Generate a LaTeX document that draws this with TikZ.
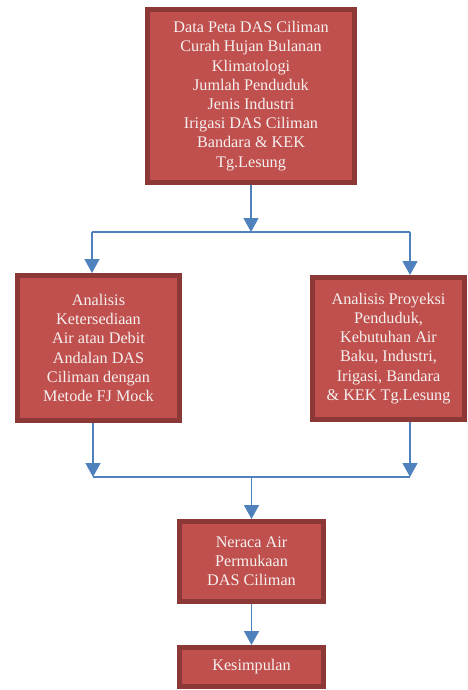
\documentclass[tikz,border=0pt]{standalone}
\usepackage{fontspec}
\setmainfont{Liberation Serif}
\usetikzlibrary{arrows.meta}
\definecolor{boxfill}{HTML}{C0504D}
\definecolor{boxline}{HTML}{8C3836}
\definecolor{boxtext}{HTML}{F4F0F0}
\definecolor{conncol}{HTML}{4F81BD}
\tikzset{
  flowbox/.style={draw=boxline, fill=boxfill, line width=5pt, text=boxtext,
    align=center, inner sep=0pt, font=\fontsize{16.2}{19.2}\selectfont},
  conn/.style={draw=conncol, line width=1.6pt},
  connarrow/.style={conn, -{Triangle[width=15pt,length=14pt]}}
}
\begin{document}
\begin{tikzpicture}[x=1pt,y=-1pt]
\useasboundingbox (0,0) rectangle (467,690);
\node[flowbox, minimum width=207pt, minimum height=173pt] (top) at (251,96)
  {Data Peta DAS Ciliman\\Curah Hujan Bulanan\\Klimatologi\\Jumlah Penduduk\\Jenis Industri\\Irigasi DAS Ciliman\\Bandara \& KEK\\Tg.Lesung};
\node[flowbox, minimum width=162pt, minimum height=145pt] (left) at (98.5,348)
  {Analisis\\Ketersediaan\\Air atau Debit\\Andalan DAS\\Ciliman dengan\\Metode FJ Mock};
\node[flowbox, minimum width=152pt, minimum height=142pt] (right) at (388.5,348.5)
  {Analisis Proyeksi\\Penduduk,\\Kebutuhan Air\\Baku, Industri,\\Irigasi, Bandara\\\& KEK Tg.Lesung};
\node[flowbox, minimum width=144pt, minimum height=80pt] (neraca) at (251.5,561.5)
  {Neraca Air\\Permukaan\\DAS Ciliman};
\node[flowbox, minimum width=144pt, minimum height=39pt] (kes) at (251.5,667)
  {Kesimpulan};
\coordinate (j1) at (251,232);
\coordinate (j1l) at (92,232);
\coordinate (j1r) at (410,232);
\coordinate (j2) at (251.5,477);
\coordinate (j2l) at (93,477);
\coordinate (j2r) at (410,477);
\draw[connarrow] (top.south) -- (j1);
\draw[conn] (j1l) -- (j1r);
\draw[connarrow] (j1l) -- (j1l |- left.north);
\draw[connarrow] (j1r) -- (j1r |- right.north);
\draw[connarrow] (left.south -| j2l) -- (j2l);
\draw[connarrow] (right.south -| j2r) -- (j2r);
\draw[conn] (j2l) -- (j2r);
\draw[connarrow] (j2) -- (neraca.north);
\draw[connarrow] (neraca.south) -- (kes.north);
\end{tikzpicture}
\end{document}
